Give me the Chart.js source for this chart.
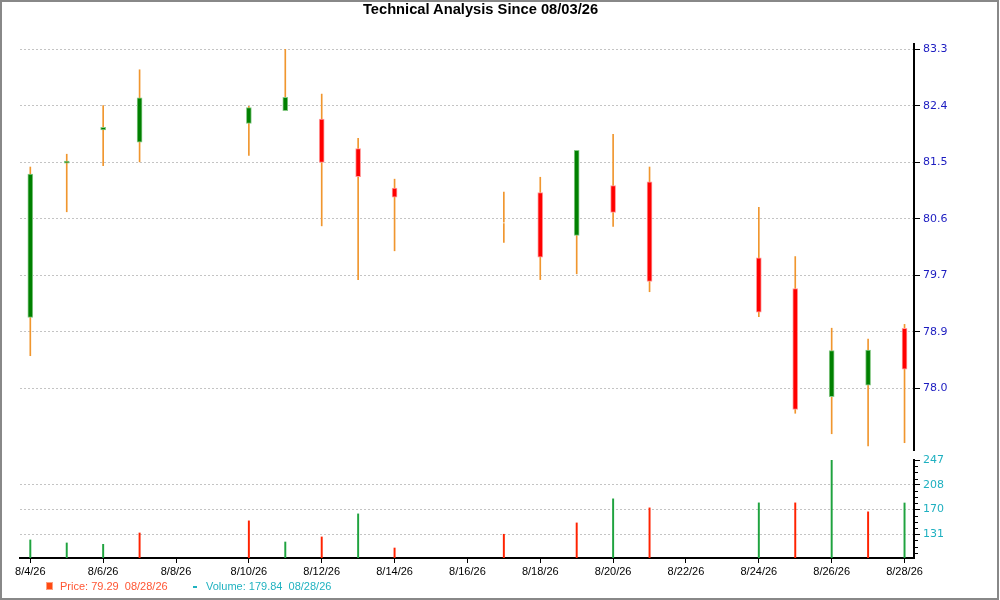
<!DOCTYPE html>
<html>
<head>
<meta charset="utf-8">
<script src="https://cdn.jsdelivr.net/npm/chart.js@4.4.0/dist/chart.umd.min.js"></script>
<style>
html,body{margin:0;padding:0;background:#fff;}
#wrap{position:relative;width:1000px;height:600px;overflow:hidden;background:#fff;}
#frame{position:absolute;left:0;top:0;width:999px;height:600px;box-sizing:border-box;border:2px solid #888;pointer-events:none;}
#title{position:absolute;left:0;top:1px;width:961px;text-align:center;font:bold 14.7px "Liberation Sans",Arial,sans-serif;line-height:16px;color:#000;}
#c1{position:absolute;left:0;top:0;}
#c2{position:absolute;left:0;top:450px;}
.lg{position:absolute;top:579px;font:11px "Liberation Sans",Arial,sans-serif;line-height:14px;white-space:pre;}
#lgPriceBox{position:absolute;left:46px;top:582px;width:5px;height:6px;background:#ff4a12;border:1px solid #ffa080;}
#lgVolDash{position:absolute;left:193px;top:586px;width:4px;height:1.5px;background:#20b2c0;}
</style>
</head>
<body>
<div id="wrap">
  <canvas id="c1" width="1000" height="460"></canvas>
  <canvas id="c2" width="1000" height="150"></canvas>
  <div id="title">Technical Analysis Since 08/03/26</div>
  <div id="lgPriceBox"></div>
  <div class="lg" id="lgPrice" style="left:60px;color:#ff5533;">Price: 79.29  08/28/26</div>
  <div id="lgVolDash"></div>
  <div class="lg" id="lgVol" style="left:206px;color:#20b2c0;">Volume: 179.84  08/28/26</div>
  <div id="frame"></div>
</div>
<script>
// ---- data ----
const dates  = ['8/4/26','8/5/26','8/6/26','8/7/26','8/10/26','8/11/26','8/12/26','8/13/26','8/14/26','8/17/26','8/18/26','8/19/26','8/20/26','8/21/26','8/24/26','8/25/26','8/26/26','8/27/26','8/28/26'];
const open   = [79.11, 81.52, 82.04, 81.85, 82.14, 82.34, 82.21, 81.75, 81.13, 80.57, 81.06, 80.39, 81.17, 81.23, 80.04, 79.56, 77.87, 78.05, 78.94];
const high   = [81.46, 81.66, 82.42, 82.98, 82.41, 83.30, 82.60, 81.91, 81.27, 81.07, 81.30, 81.72, 81.97, 81.46, 80.83, 80.06, 78.94, 78.77, 79.00];
const low    = [78.51, 80.76, 81.48, 81.54, 81.64, 82.34, 80.54, 79.70, 80.15, 80.28, 79.70, 79.79, 80.53, 79.51, 79.12, 77.61, 77.29, 77.10, 77.15];
const close  = [81.35, 81.54, 82.08, 82.54, 82.39, 82.55, 81.53, 81.31, 80.99, 80.57, 80.05, 81.72, 80.75, 79.67, 79.19, 77.67, 78.59, 78.60, 78.30];
const volume = [122.1, 117.4, 115.3, 133.0, 151.9, 118.9, 126.8, 162.8, 109.5, 131.0, null, 148.7, 186.3, 172.2, 180.0, 180.0, 247.0, 166.0, 179.84];
const volDir = ['up','up','up','down','down','up','down','up','down','down', null,'down','up','down','up','down','up','down','up'];
const xTickLabels = ['8/4/26','8/6/26','8/8/26','8/10/26','8/12/26','8/14/26','8/16/26','8/18/26','8/20/26','8/22/26','8/24/26','8/26/26','8/28/26'];
const priceTickLabels = ['78.0','78.9','79.7','80.6','81.5','82.4','83.3'];
const volTickLabels = ['131','170','208','247'];

// ---- helpers ----
const dayOf = s => +s.split('/')[1];
const days = dates.map(dayOf);
const xTickVals = xTickLabels.map(dayOf);
const linspace = (a, b, n) => Array.from({length:n}, (_, i) => a + (b - a) * i / (n - 1));
const priceTickVals = linspace(+priceTickLabels[0], +priceTickLabels[priceTickLabels.length-1], priceTickLabels.length);
const volTickVals = linspace(+volTickLabels[0], +volTickLabels[volTickLabels.length-1], volTickLabels.length);
const volStep = (volTickVals[1] - volTickVals[0]) / 4;
const volMinor = [];
for (let v = volTickVals[0] - 3*volStep; v < volTickVals[volTickVals.length-1]; v += volStep) {
  if (!volTickVals.some(t => Math.abs(t - v) < 1e-6)) volMinor.push(v);
}

const X_MIN = 3.717, X_MAX = 28.26;
const P_MIN = 77.036, P_MAX = 83.383;
const V_MIN = 93.9, V_MAX = 247;

const GREEN = '#008000', GREEN_B = '#86c886';
const RED = '#ff0000', RED_B = '#ff9a9a';
const WICK = '#f0962e';

const bodyFill = open.map((o, i) => close[i] > o ? GREEN : (close[i] < o ? RED : '#ffffff'));
const bodyBorder = open.map((o, i) => close[i] > o ? GREEN_B : (close[i] < o ? RED_B : 'rgba(0,0,0,0)'));

Chart.defaults.font.family = '"Liberation Sans", Arial, sans-serif';

// ---- price chart ----
new Chart(document.getElementById('c1'), {
  type: 'bar',
  data: {
    datasets: [
      {
        label: 'body',
        data: days.map((d, i) => ({x: d, y: [open[i], close[i]]})),
        backgroundColor: bodyFill,
        borderColor: bodyBorder,
        borderWidth: 1,
        borderSkipped: false,
        barThickness: 5,
        minBarLength: 2,
        grouped: false,
        order: 1
      },
      {
        label: 'wick',
        data: days.map((d, i) => ({x: d, y: [low[i], high[i]]})),
        backgroundColor: WICK,
        borderWidth: 0,
        barThickness: 1,
        grouped: false,
        order: 2
      }
    ]
  },
  options: {
    responsive: false,
    animation: false,
    events: [],
    layout: {padding: {left: 20, top: 44, right: 0, bottom: 10}},
    plugins: {legend: {display: false}, tooltip: {enabled: false}, title: {display: false}},
    scales: {
      x: {type: 'linear', min: X_MIN, max: X_MAX, offset: false, grid: {offset: false}, display: false},
      y: {
        position: 'right',
        min: P_MIN, max: P_MAX,
        afterBuildTicks: s => { s.ticks = priceTickVals.map(v => ({value: v})); },
        afterFit: s => { s.width = 86; },
        ticks: {
          color: '#1c1cc0',
          font: {family: '"DejaVu Sans", Verdana, sans-serif', size: 11},
          padding: 3,
          callback: (v, i) => priceTickLabels[i]
        },
        grid: {color: '#c4c4c4', lineWidth: 1, tickColor: '#000', tickLength: 6, tickWidth: 1},
        border: {display: true, color: '#000', width: 2, dash: [2, 2]}
      }
    }
  }
});

// ---- volume chart ----
const minorTicks = {
  id: 'minorTicks',
  afterDraw(chart) {
    const s = chart.scales.y, ctx = chart.ctx;
    ctx.save();
    ctx.strokeStyle = '#000';
    ctx.lineWidth = 1;
    volMinor.forEach(v => {
      if (v < s.min || v > s.max) return;
      const y = Math.round(s.getPixelForValue(v)) + 0.5;
      ctx.beginPath();
      ctx.moveTo(s.left, y);
      ctx.lineTo(s.left + 4, y);
      ctx.stroke();
    });
    ctx.restore();
  }
};

new Chart(document.getElementById('c2'), {
  type: 'bar',
  data: {
    datasets: [{
      label: 'volume',
      data: days.map((d, i) => ({x: d, y: volume[i]})),
      backgroundColor: volDir.map(k => k === 'up' ? '#1fa33f' : '#ff2200'),
      borderWidth: 0,
      barThickness: 1.3,
      grouped: false
    }]
  },
  options: {
    responsive: false,
    animation: false,
    events: [],
    layout: {padding: {left: 20, top: 10, right: 0, bottom: 0}},
    plugins: {legend: {display: false}, tooltip: {enabled: false}},
    scales: {
      x: {
        type: 'linear', min: X_MIN, max: X_MAX, offset: false,
        afterBuildTicks: s => { s.ticks = xTickVals.map(v => ({value: v})); },
        afterFit: s => { s.height = 42; },
        ticks: {
          color: '#000',
          font: {size: 11},
          padding: 2,
          maxRotation: 0, minRotation: 0, autoSkip: false,
          callback: (v, i) => xTickLabels[i]
        },
        grid: {offset: false, drawOnChartArea: false, tickColor: '#000', tickLength: 5},
        border: {display: true, color: '#000', width: 2}
      },
      y: {
        position: 'right',
        min: V_MIN, max: V_MAX,
        afterBuildTicks: s => { s.ticks = volTickVals.map(v => ({value: v})); },
        afterFit: s => { s.width = 86; },
        ticks: {
          color: '#1fb0c0',
          font: {family: '"DejaVu Sans", Verdana, sans-serif', size: 11},
          padding: 3,
          callback: (v, i) => volTickLabels[i]
        },
        grid: {
          color: c => (c.tick && c.tick.value >= V_MAX - 0.01) ? 'rgba(0,0,0,0)' : '#c4c4c4',
          lineWidth: 1, tickColor: '#000', tickLength: 6, tickWidth: 1
        },
        border: {display: true, color: '#000', width: 2, dash: [2, 2]}
      }
    }
  },
  plugins: [minorTicks]
});
</script>
</body>
</html>
